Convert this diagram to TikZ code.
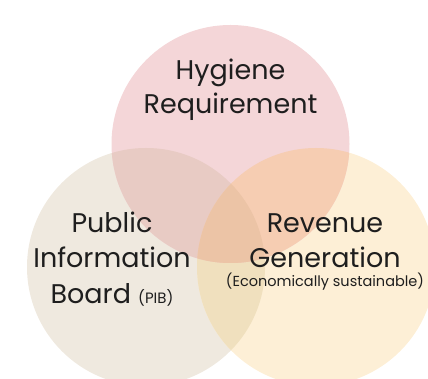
\documentclass[tikz,border=0pt]{standalone}
\usepackage{fontspec}
\setmainfont{Poppins}
\definecolor{cT}{RGB}{244,214,216}
\definecolor{cL}{RGB}{239,233,223}
\definecolor{cR}{RGB}{253,239,214}
\definecolor{cTL}{RGB}{232,203,196}
\definecolor{cTR}{RGB}{246,205,178}
\definecolor{cLR}{RGB}{240,224,190}
\definecolor{cC}{RGB}{236,196,166}
\definecolor{txt}{RGB}{30,30,30}
\tikzset{lbl/.style={anchor=base,inner sep=0pt,text=txt,font=\fontsize{27}{30}\selectfont},
small/.style={anchor=base,inner sep=0pt,text=txt,font=\fontsize{14.5}{16}\selectfont}}
\begin{document}
\begin{tikzpicture}[x=1pt,y=-1pt]
\useasboundingbox (0,0) rectangle (428,379);
\clip (0,0) rectangle (428,379);
\def\T{(230.5,144) circle (119)}
\def\L{(146,267) circle (119)}
\def\R{(316,267) circle (119)}
\fill[cL] \L;
\fill[cR] \R;
\fill[cT] \T;
\begin{scope}\clip \L; \fill[cLR] \R; \end{scope}
\begin{scope}\clip \T; \fill[cTL] \L; \end{scope}
\begin{scope}\clip \T; \fill[cTR] \R; \end{scope}
\begin{scope}\clip \T; \clip \L; \fill[cC] \R; \end{scope}
\node[lbl] (h1) at (230.5,80) {Hygiene};
\node[lbl] (h2) at (230.5,114) {Requirement};
\node[lbl] (p1) at (112,233) {Public};
\node[lbl] (p2) at (112,268) {Information};
\node[lbl] (p3) at (112,303) {Board {\fontsize{15}{17}\selectfont(PIB)}};
\node[lbl] (r1) at (325,233) {Revenue};
\node[lbl] (r2) at (325,268) {Generation};
\node[small] (r3) at (325,287) {(Economically sustainable)};
\end{tikzpicture}
\end{document}
